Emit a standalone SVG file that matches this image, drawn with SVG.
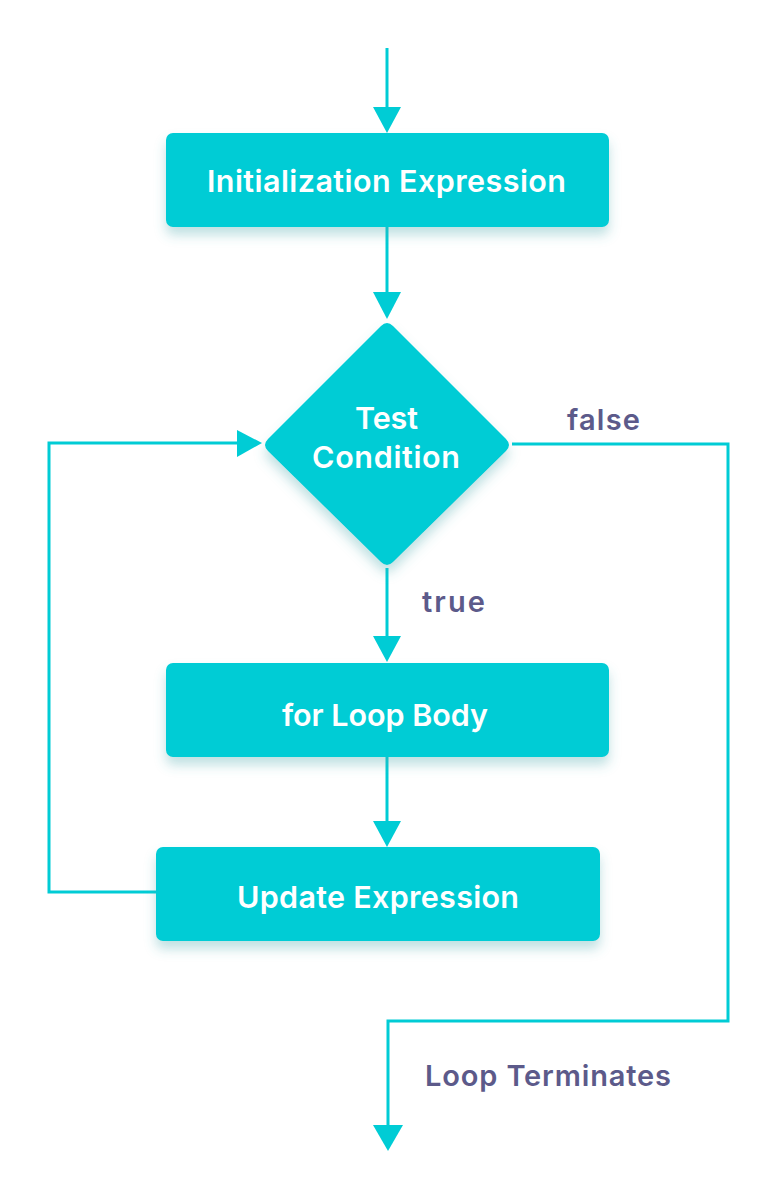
<svg xmlns="http://www.w3.org/2000/svg" width="778" height="1200" viewBox="0 0 778 1200">
<defs>
<style>
.node{fill:#00CCD5;}
.t{font-family:"Inter","Liberation Sans",sans-serif;font-weight:600;fill:#ffffff;text-anchor:middle;font-size:30.5px;}
.lbl{font-family:"Inter","Liberation Sans",sans-serif;font-weight:600;fill:#5C5A8A;font-size:29px;}
.ln{fill:none;stroke:#00CCD5;stroke-width:3;}
.ah{fill:#00CCD5;}
</style>
<filter id="sh" x="-20%" y="-20%" width="140%" height="160%">
<feDropShadow dx="0" dy="8" stdDeviation="6" flood-color="#4aa8ad" flood-opacity="0.35"/>
</filter>
</defs>
<rect width="778" height="1200" fill="#ffffff"/>
<g id="connectors">
<line class="ln" x1="387" y1="48" x2="387" y2="110"/>
<polygon class="ah" points="373,107 401,107 387,133"/>
<line class="ln" x1="387" y1="227" x2="387" y2="295"/>
<polygon class="ah" points="373,292 401,292 387,319"/>
<line class="ln" x1="387" y1="568" x2="387" y2="638"/>
<polygon class="ah" points="373,636 401,636 387,662"/>
<line class="ln" x1="387" y1="757" x2="387" y2="824"/>
<polygon class="ah" points="373,821 401,821 387,847"/>
<polyline class="ln" points="156,892 49,892 49,443 240,443"/>
<polygon class="ah" points="237,430 237,457 262,443"/>
<polyline class="ln" points="512,444 728,444 728,1021 388,1021 388,1128"/>
<polygon class="ah" points="373,1125 403,1125 388,1151"/>
</g>
<g id="n1"><rect class="node" x="166" y="133" width="443" height="94" rx="7" filter="url(#sh)"/><text class="t" x="386.5" y="192" textLength="359" lengthAdjust="spacing">Initialization Expression</text></g>
<g id="n2"><path class="node" d="M381,326 Q387,320 393,326 L506,439 Q512,445 506,451 L393,562 Q387,568 381,562 L268,451 Q262,445 268,439 Z" filter="url(#sh)"/><text class="t" x="386.5" y="429" textLength="63" lengthAdjust="spacing">Test</text><text class="t" x="386" y="468" textLength="148" lengthAdjust="spacing">Condition</text></g>
<g id="n3"><rect class="node" x="166" y="663" width="443" height="94" rx="7" filter="url(#sh)"/><text class="t" x="385" y="726" textLength="206" lengthAdjust="spacing">for Loop Body</text></g>
<g id="n4"><rect class="node" x="156" y="847" width="444" height="94" rx="7" filter="url(#sh)"/><text class="t" x="378" y="908" textLength="282" lengthAdjust="spacing">Update Expression</text></g>
<g id="labels">
<text class="lbl" x="567" y="430" textLength="73" lengthAdjust="spacing">false</text>
<text class="lbl" x="422" y="612" textLength="63" lengthAdjust="spacing">true</text>
<text class="lbl" x="425" y="1086" textLength="246" lengthAdjust="spacing">Loop Terminates</text>
</g>
</svg>
